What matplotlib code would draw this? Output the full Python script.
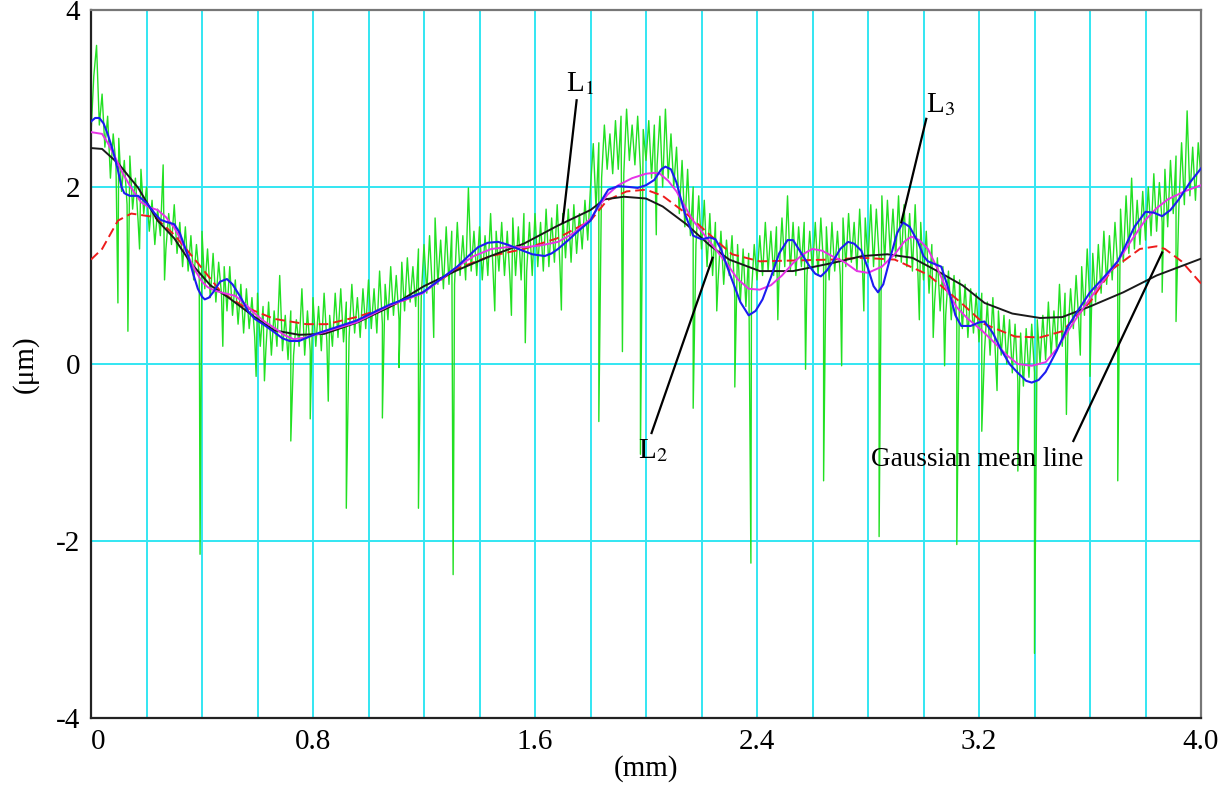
import numpy as np
import matplotlib
matplotlib.use("Agg")
import matplotlib.pyplot as plt

plt.rcParams['font.family'] = ['Liberation Serif', 'DejaVu Serif']
plt.rcParams['mathtext.fontset'] = 'stix'

# ---------------- data (x in mm, y in um) ----------------
# measured profile sampled every 0.01 mm (0.00 ... 4.00)
profile_y = [
    2.6, 3.25, 3.6, 2.7, 3.05, 2.45, 2.8, 2.1, 2.6, 2.25,
    2.55, 1.95, 2.3, 1.8, 2.35, 1.75, 2.1, 1.6, 2.2, 1.7,
    2.0, 1.5, 1.85, 1.35, 1.75, 1.45, 2.25, 1.3, 1.7, 1.35,
    1.8, 1.25, 1.6, 1.1, 1.55, 1.05, 1.45, 0.95, 1.35, 1.0,
    1.5, 0.85, 1.3, 0.75, 1.25, 0.7, 1.15, 0.8, 1.1, 0.6,
    1.1, 0.55, 0.95, 0.45, 0.9, 0.35, 0.85, 0.4, 0.75, 0.3,
    0.8, 0.2, 0.65, 0.15, 0.7, 0.1, 0.6, 0.2, 1.0, 0.15,
    0.55, 0.05, 0.6, 0.1, 0.5, 0.2, 0.85, 0.1, 0.6, 0.15,
    0.75, 0.2, 0.65, 0.15, 0.8, 0.25, 0.55, 0.2, 0.8, 0.3,
    0.85, 0.25, 0.7, 0.3, 0.9, 0.35, 0.75, 0.3, 0.85, 0.4,
    0.95, 0.4, 0.85, 0.35, 1.05, 0.45, 0.9, 0.5, 1.1, 0.55,
    1.0, 0.5, 1.15, 0.6, 1.2, 0.7, 1.1, 0.65, 1.3, 0.75,
    1.35, 0.8, 1.45, 0.85, 1.65, 0.9, 1.4, 0.85, 1.55, 0.9,
    1.5, 0.9, 1.6, 1.0, 1.45, 0.95, 1.99, 1.05, 1.5, 1.0,
    1.55, 0.95, 1.45, 1.0, 1.7, 0.95, 1.5, 1.05, 1.6, 1.0,
    1.5, 0.95, 1.65, 1.0, 1.55, 0.95, 1.7, 1.05, 1.6, 1.0,
    1.7, 1.1, 1.6, 1.05, 1.75, 1.1, 1.65, 1.15, 1.8, 1.1,
    1.7, 1.2, 1.75, 1.15, 1.8, 1.25, 1.7, 1.3, 1.85, 1.4,
    2.0, 2.49, 1.75, 2.5, 2.1, 2.7, 2.2, 2.6, 2.15, 2.75,
    2.2, 2.8, 2.15, 2.88, 2.3, 2.7, 2.25, 2.8, 2.2, 2.65,
    2.3, 2.75, 2.1, 2.7, 2.25, 2.8, 2.0, 2.88, 2.1, 2.6,
    2.0, 2.45, 1.7, 2.3, 1.55, 2.2, 1.45, 2.0, 1.35, 1.9,
    1.3, 1.85, 1.1, 1.7, 1.0, 1.6, 0.95, 1.5, 0.9, 1.4,
    1.0, 1.45, 0.75, 1.35, 0.7, 1.3, 0.65, 1.25, 0.8, 1.35,
    0.95, 1.45, 1.0, 1.6, 1.05, 1.5, 1.0, 1.55, 1.05, 1.65,
    1.1, 1.9, 1.05, 1.6, 1.0, 1.55, 1.1, 1.6, 1.0, 1.5,
    1.05, 1.6, 1.0, 1.65, 1.1, 1.55, 0.95, 1.6, 1.05, 1.5,
    1.0, 1.65, 1.1, 1.7, 1.15, 1.6, 1.05, 1.75, 1.1, 1.65,
    1.15, 1.8, 1.1, 1.75, 1.2, 1.9, 1.15, 1.85, 1.25, 1.75,
    1.2, 1.9, 1.15, 1.8, 1.1, 1.7, 1.05, 1.8, 1.0, 1.6,
    0.95, 1.5, 0.8, 1.35, 0.7, 1.2, 0.6, 1.1, 0.55, 1.05,
    0.5, 1.0, 0.45, 0.95, 0.4, 0.9, 0.3, 0.85, 0.35, 0.8,
    0.25, 0.8, 0.15, 0.7, 0.1, 0.75, 0.05, 0.6, 0.1, 0.55,
    0.0, 0.5, -0.1, 0.45, -0.2, 0.35, -0.25, 0.4, -0.15, 0.45,
    -0.1, 0.5, 0.0, 0.55, 0.05, 0.7, 0.1, 0.6, 0.15, 0.9,
    0.2, 0.8, 0.3, 0.85, 0.4, 1.0, 0.45, 1.1, 0.55, 1.3,
    0.65, 1.25, 0.7, 1.35, 0.8, 1.5, 0.9, 1.45, 0.95, 1.6,
    1.1, 1.75, 1.15, 1.9, 1.25, 2.1, 1.3, 1.85, 1.35, 1.95,
    1.4, 2.0, 1.45, 2.15, 1.5, 2.05, 1.6, 2.2, 1.55, 2.3,
    1.7, 2.35, 1.75, 2.5, 1.8, 2.86, 1.9, 2.45, 1.85, 2.5,
    2.1,
]
profile_step = 0.01

# narrow downward spikes of the profile
spike_x = [0.097, 0.133, 0.175, 0.265, 0.393, 0.475, 0.595, 0.625, 0.72, 0.79,
           0.855, 0.92, 1.05, 1.11, 1.18, 1.235, 1.305, 1.455, 1.515, 1.565,
           1.695, 1.83, 1.915, 1.98, 2.037, 2.17, 2.255, 2.32, 2.378, 2.475,
           2.575, 2.64, 2.705, 2.785, 2.84, 2.985, 3.035, 3.076, 3.12, 3.21,
           3.265, 3.34, 3.40, 3.515, 3.565, 3.60, 3.70, 3.86, 3.91]
spike_y = [0.69, 0.37, 1.3, 0.95, -2.15, 0.2, -0.14, -0.19, -0.87, -0.62,
           -0.42, -1.63, -0.61, -0.04, -1.63, 0.3, -2.38, 0.6, 0.55, 0.24,
           0.61, -0.65, 0.14, -1.02, 1.46, -0.5, 0.6, -0.26, -2.25, 0.5,
           -0.06, -1.32, -0.02, 0.6, -1.95, 0.5, 0.3, -0.02, -2.04, -0.76,
           -0.3, -1.21, -3.27, -0.57, 0.1, -0.14, -1.32, 0.81, 0.48]

# Gaussian mean line (black)
black_x = [0.0, 0.04, 0.1, 0.17, 0.24, 0.3, 0.36, 0.43, 0.5, 0.59, 0.66, 0.75,
           0.84, 0.96, 1.08, 1.2, 1.32, 1.44, 1.56, 1.68, 1.8, 1.85, 1.92,
           2.0, 2.06, 2.145, 2.23, 2.3, 2.41, 2.53, 2.67, 2.78, 2.87, 2.96,
           3.05, 3.14, 3.22, 3.32, 3.42, 3.5, 3.6, 3.72, 3.84, 4.0]
black_y = [2.44, 2.43, 2.26, 1.99, 1.62, 1.42, 1.14, 0.89, 0.74, 0.53, 0.38, 0.33,
           0.34, 0.47, 0.65, 0.88, 1.06, 1.22, 1.36, 1.56, 1.74, 1.86, 1.89,
           1.87, 1.78, 1.58, 1.34, 1.18, 1.05, 1.05, 1.14, 1.22, 1.24, 1.2,
           1.05, 0.89, 0.69, 0.57, 0.52, 0.53, 0.65, 0.81, 1.0, 1.19]

# red dashed filter line
red_x = [0.0, 0.04, 0.097, 0.145, 0.23, 0.3, 0.385, 0.47, 0.55, 0.66, 0.776,
         0.85, 0.956, 1.076, 1.196, 1.32, 1.44, 1.56, 1.68, 1.8, 1.86, 1.93,
         2.0, 2.06, 2.145, 2.23, 2.31, 2.41, 2.67, 2.776, 2.896, 3.016, 3.136,
         3.22, 3.33, 3.42, 3.5, 3.6, 3.68, 3.78, 3.84, 3.87, 3.93, 4.0]
red_y = [1.18, 1.3, 1.62, 1.7, 1.66, 1.46, 1.14, 0.81, 0.65, 0.51, 0.45,
         0.45, 0.53, 0.65, 0.81, 1.08, 1.22, 1.3, 1.42, 1.62, 1.85, 1.95,
         1.97, 1.9, 1.7, 1.46, 1.24, 1.16, 1.18, 1.2, 1.18, 1.01, 0.69,
         0.45, 0.31, 0.3, 0.37, 0.7, 1.07, 1.3, 1.33, 1.3, 1.16, 0.91]

# blue filter line
blue_x = [0.0, 0.015, 0.03, 0.045, 0.06, 0.08, 0.097, 0.11, 0.12, 0.14, 0.17,
          0.2, 0.23, 0.25, 0.277, 0.3, 0.32, 0.35, 0.37, 0.385, 0.40, 0.41,
          0.425, 0.44, 0.465, 0.49, 0.51, 0.54, 0.565, 0.59, 0.62, 0.656,
          0.69, 0.716, 0.75, 0.78, 0.81, 0.956, 1.076, 1.196, 1.32, 1.36,
          1.395, 1.43, 1.467, 1.5, 1.54, 1.59, 1.635, 1.66, 1.683, 1.72,
          1.755, 1.8, 1.83, 1.864, 1.9, 1.94, 1.97, 2.0, 2.03, 2.055, 2.07,
          2.09, 2.11, 2.14, 2.17, 2.2, 2.23, 2.25, 2.27, 2.29, 2.31, 2.34,
          2.37, 2.395, 2.42, 2.45, 2.48, 2.51, 2.53, 2.56, 2.59, 2.61, 2.63,
          2.65, 2.67, 2.7, 2.728, 2.75, 2.776, 2.8, 2.82, 2.836, 2.855, 2.88,
          2.905, 2.926, 2.95, 2.98, 3.0, 3.016, 3.04, 3.064, 3.09, 3.115,
          3.136, 3.17, 3.2, 3.22, 3.25, 3.28, 3.31, 3.34, 3.37, 3.39, 3.415,
          3.44, 3.48, 3.52, 3.56, 3.6, 3.65, 3.7, 3.73, 3.76, 3.8, 3.83,
          3.86, 3.89, 3.92, 3.96, 4.0]
blue_y = [2.74, 2.78, 2.78, 2.72, 2.6, 2.4, 2.19, 2.0, 1.93, 1.9, 1.9,
          1.82, 1.7, 1.63, 1.6, 1.58, 1.48, 1.22, 1.0, 0.85, 0.76, 0.73,
          0.75, 0.81, 0.93, 0.96, 0.9, 0.75, 0.6, 0.51, 0.45, 0.37,
          0.29, 0.26, 0.26, 0.3, 0.34, 0.49, 0.67, 0.81, 1.1, 1.22,
          1.32, 1.37, 1.38, 1.35, 1.3, 1.24, 1.22, 1.25, 1.3, 1.4,
          1.5, 1.62, 1.8, 1.97, 2.01, 2.0, 1.99, 2.02, 2.08, 2.2, 2.23,
          2.2, 2.05, 1.7, 1.45, 1.41, 1.43, 1.41, 1.3, 1.12, 0.95, 0.7,
          0.55, 0.6, 0.73, 0.98, 1.25, 1.4, 1.4, 1.25, 1.1, 1.02, 0.99,
          1.05, 1.14, 1.3, 1.38, 1.36, 1.28, 1.08, 0.88, 0.81, 0.9, 1.2,
          1.48, 1.6, 1.55, 1.38, 1.22, 1.16, 1.13, 1.1, 0.85, 0.55,
          0.43, 0.43, 0.47, 0.48, 0.35, 0.16, 0.0, -0.1, -0.19, -0.21, -0.18,
          -0.09, 0.15, 0.42, 0.62, 0.81, 0.98, 1.16, 1.35, 1.55, 1.72, 1.71,
          1.67, 1.74, 1.86, 2.05, 2.21]

# magenta filter line
mag_x = [0.0, 0.04, 0.06, 0.085, 0.115, 0.145, 0.18, 0.21, 0.24, 0.27, 0.3,
         0.325, 0.35, 0.375, 0.4, 0.42, 0.445, 0.48, 0.52, 0.555, 0.59,
         0.625, 0.66, 0.695, 0.73, 0.776, 0.85, 0.956, 1.076, 1.196, 1.32,
         1.38, 1.443, 1.5, 1.563, 1.62, 1.683, 1.74, 1.8, 1.83, 1.86, 1.9,
         1.95, 2.0, 2.03, 2.05, 2.08, 2.11, 2.14, 2.17, 2.2, 2.23, 2.26,
         2.29, 2.33, 2.37, 2.41, 2.45, 2.49, 2.53, 2.565, 2.6, 2.635, 2.67,
         2.716, 2.76, 2.8, 2.85, 2.896, 2.93, 2.956, 2.985, 3.016, 3.05,
         3.088, 3.12, 3.16, 3.21, 3.256, 3.3, 3.34, 3.39, 3.44, 3.48, 3.52,
         3.56, 3.6, 3.65, 3.7, 3.75, 3.8, 3.84, 3.88, 3.94, 4.0]
mag_y = [2.62, 2.6, 2.5, 2.35, 2.15, 1.99, 1.83, 1.77, 1.74, 1.66, 1.54,
         1.4, 1.22, 1.06, 0.93, 0.87, 0.83, 0.8, 0.77, 0.68, 0.57,
         0.48, 0.41, 0.33, 0.28, 0.3, 0.37, 0.47, 0.66, 0.8, 1.1,
         1.22, 1.3, 1.32, 1.32, 1.34, 1.38, 1.48, 1.64, 1.78, 1.91, 2.02,
         2.1, 2.15, 2.16, 2.15, 2.07, 1.95, 1.78, 1.62, 1.5, 1.38, 1.26,
         1.14, 0.96, 0.85, 0.84, 0.89, 1.0, 1.14, 1.24, 1.3, 1.28, 1.22,
         1.15, 1.05, 1.03, 1.1, 1.24, 1.38, 1.44, 1.4, 1.3, 1.08,
         0.81, 0.64, 0.51, 0.38, 0.24, 0.1, 0.0, -0.02, 0.02, 0.17, 0.37,
         0.56, 0.74, 0.95, 1.16, 1.4, 1.63, 1.76, 1.86, 1.95, 2.02]

x_ticks = [0, 0.8, 1.6, 2.4, 3.2, 4.0]
x_tick_labels = ['0', '0.8', '1.6', '2.4', '3.2', '4.0']
y_ticks = [-4, -2, 0, 2, 4]
y_tick_labels = ['-4', '-2', '0', '2', '4']
v_grid = [0.2, 0.4, 0.6, 0.8, 1.0, 1.2, 1.4, 1.6, 1.8, 2.0, 2.2, 2.4, 2.6,
          2.8, 3.0, 3.2, 3.4, 3.6, 3.8]
h_grid = [-2, 0, 2]

# ---------------- figure ----------------
fig = plt.figure(figsize=(12.26, 7.87), dpi=100)
ax = fig.add_axes([91 / 1226, 1 - 718 / 787, 1110 / 1226, 708 / 787])
ax.set_xlim(0, 4.0)
ax.set_ylim(-4, 4)

grid_c = '#33e6f2'
for gx in v_grid:
    ax.axvline(gx, color=grid_c, lw=1.4, zorder=1)
for gy in h_grid:
    ax.axhline(gy, color=grid_c, lw=1.4, zorder=1)

# profile: regular samples merged with spike points
px = np.arange(len(profile_y)) * profile_step
gx_all = np.concatenate([px, np.array(spike_x)])
gy_all = np.concatenate([np.array(profile_y), np.array(spike_y)])
order = np.argsort(gx_all, kind='stable')
ax.plot(gx_all[order], gy_all[order], color='#22e022', lw=1.0, zorder=2)

ax.plot(red_x, red_y, color='#ee1c1c', lw=1.4, ls=(0, (5, 2.5)), zorder=3)
ax.plot(black_x, black_y, color='#1a1a1a', lw=1.4, zorder=4)
ax.plot(mag_x, mag_y, color='#e633e6', lw=1.4, zorder=5)
ax.plot(blue_x, blue_y, color='#1c1cf0', lw=1.5, zorder=6)

# annotations
fs = 21
ax.plot([1.75, 1.70], [2.98, 1.60], color='black', lw=1.6, zorder=7)
ax.text(1.71, 3.17, r'L$_1$', fontsize=fs, ha='left', va='center', zorder=8)
ax.plot([2.02, 2.24], [-0.78, 1.20], color='black', lw=1.6, zorder=7)
ax.text(1.97, -0.98, r'L$_2$', fontsize=fs, ha='left', va='center', zorder=8)
ax.plot([3.01, 2.92], [2.77, 1.60], color='black', lw=1.6, zorder=7)
ax.text(3.01, 2.93, r'L$_3$', fontsize=fs, ha='left', va='center', zorder=8)
ax.plot([3.54, 3.86], [-0.87, 1.26], color='black', lw=1.6, zorder=7)
ax.text(2.81, -1.08, 'Gaussian mean line', fontsize=19.5, ha='left', va='center', zorder=8)

# axes styling
ax.set_xticks(x_ticks)
ax.set_xticklabels(x_tick_labels)
ax.set_yticks(y_ticks)
ax.set_yticklabels(y_tick_labels)
ax.tick_params(axis='both', length=0, labelsize=21)
ax.tick_params(axis='x', pad=8)
ax.tick_params(axis='y', pad=8)
for lab in ax.get_xticklabels():
    if lab.get_text() == '0':
        lab.set_ha('left')
for side in ['left', 'bottom']:
    ax.spines[side].set_color('#222222')
    ax.spines[side].set_linewidth(1.6)
for side in ['top', 'right']:
    ax.spines[side].set_color('#777777')
    ax.spines[side].set_linewidth(1.6)

ax.set_xlabel('(mm)', fontsize=21, labelpad=0)
ax.set_ylabel('(μm)', fontsize=21, labelpad=12)

fig.savefig('out.png', dpi=100)
